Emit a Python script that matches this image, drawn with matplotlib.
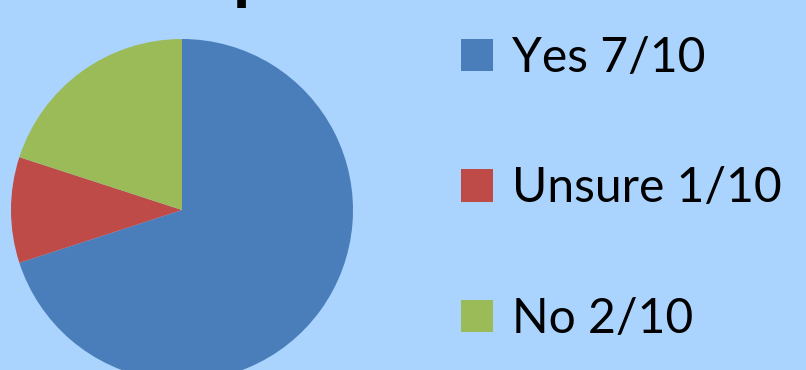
import matplotlib
matplotlib.use("Agg")
import matplotlib.pyplot as plt
from matplotlib.patches import Patch
from matplotlib.textpath import TextPath
from matplotlib.font_manager import FontProperties

# Survey answers (out of 10 respondents)
categories = ["Yes", "Unsure", "No"]
counts = [7, 1, 2]
total = 10
colors = ["#4A7EBB", "#BE4B48", "#9BBB59"]
background = "#AAD4FE"

labels = [f"{c} {n}/{total}" for c, n in zip(categories, counts)]

W, H = 806, 370
fig = plt.figure(figsize=(W / 100, H / 100), dpi=100, facecolor=background)
ax = fig.add_axes([0, 0, 1, 1])
ax.set_facecolor(background)

ax.pie(
    counts,
    colors=colors,
    startangle=90,
    counterclock=False,
    center=(182, 160),
    radius=171,
    frame=True,
    wedgeprops=dict(linewidth=0),
)
ax.set_xlim(0, W)
ax.set_ylim(0, H)
ax.set_aspect("equal")
ax.axis("off")

# heading sits above the top edge; only the descender of its "p" reaches into view
head_px = 70
head_prop = FontProperties(family="Lato", weight="bold")
glyph = TextPath((0, 0), "p", size=head_px, prop=head_prop).vertices
desc = glyph[:, 1].min()
ax.text(233, H - 8 - desc, "p", fontproperties=head_prop,
        fontsize=head_px * 72 / 100, va="baseline", ha="left", color="black",
        clip_on=False)

handles = [Patch(facecolor=c, edgecolor="none") for c in colors]
px = 48
fs = px * 72 / 100
leg = ax.legend(
    handles,
    labels,
    loc="upper left",
    bbox_to_anchor=(461 / W, 1 - 36 / H),
    bbox_transform=fig.transFigure,
    frameon=False,
    prop=dict(family="Lato", size=fs),
    handlelength=32 / px,
    handleheight=32 / px,
    handletextpad=0.4,
    labelspacing=1.8,
    borderpad=0,
    borderaxespad=0,
)

fig.savefig("out.png", dpi=100, facecolor=background)
